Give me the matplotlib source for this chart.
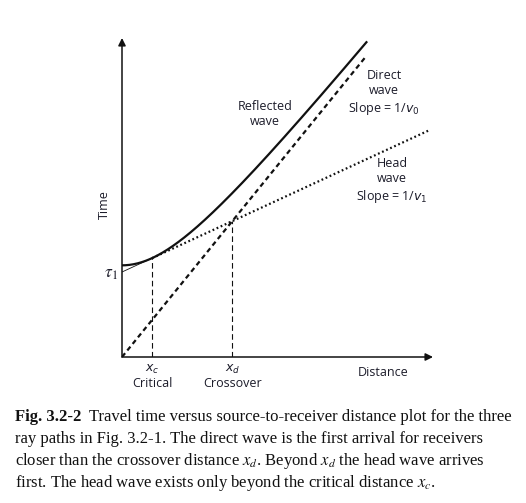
import numpy as np
import matplotlib
matplotlib.use("Agg")
import matplotlib.pyplot as plt

plt.rcParams['mathtext.fontset'] = 'stix'

# Model parameters (arbitrary units)
v0 = 1.0          # direct-wave velocity
v1 = 2.67         # head-wave (refractor) velocity
h = 1.0           # layer thickness
x_max = 8.36      # x-axis extent
t_max = 6.96      # time-axis extent
x_refl_end = 6.59
x_direct_end = 6.53
x_head_end = 8.28

# derived quantities
t0 = 2 * h / v0
ic = np.arcsin(v0 / v1)
tau1 = t0 * np.cos(ic)
xc = 2 * h * np.tan(ic)
xd = tau1 / (1 / v0 - 1 / v1)

W, H = 526, 503
fig = plt.figure(figsize=(W / 100, H / 100), dpi=100)
ox, oy = 122, 357
ax = fig.add_axes([ox / W, (H - oy) / H, (433 - ox) / W, (oy - 38) / H])
ax.set_xlim(0, x_max)
ax.set_ylim(0, t_max)
ax.axis('off')

ink = '#111111'
txt = '#1c1c2a'
sans = 'Open Sans'
fs = 9

# axes arrows
ax.annotate('', xy=(1, 0), xytext=(0, 0), xycoords='axes fraction',
            arrowprops=dict(arrowstyle='-|>', lw=1.1, color=ink, mutation_scale=11,
                            shrinkA=0, shrinkB=0))
ax.annotate('', xy=(0, 1), xytext=(0, 0), xycoords='axes fraction',
            arrowprops=dict(arrowstyle='-|>', lw=1.1, color=ink, mutation_scale=11,
                            shrinkA=0, shrinkB=0))

# reflected wave
xr = np.linspace(0, x_refl_end, 300)
tr = np.sqrt(t0**2 + (xr / v0) ** 2)
ax.plot(xr, tr, color=ink, lw=1.6, solid_capstyle='butt')

# direct wave
xdw = np.array([0, x_direct_end])
ax.plot(xdw, xdw / v0, color=ink, lw=1.6, linestyle=(0, (2.2, 1.6)))

# head wave: thin solid before xc, dotted after
xh0 = np.array([0, xc])
ax.plot(xh0, tau1 + xh0 / v1, color=ink, lw=0.6)
xh = np.array([xc, x_head_end])
ax.plot(xh, tau1 + xh / v1, color=ink, lw=1.6, linestyle=(0, (0.8, 1.2)))

# vertical guides
ax.plot([xc, xc], [0, tau1 + xc / v1], color=ink, lw=0.8, linestyle=(0, (5, 3)))
ax.plot([xd, xd], [0, xd / v0], color=ink, lw=0.8, linestyle=(0, (5, 3)))

# labels
kw = dict(fontfamily=sans, fontsize=fs, color=txt, ha='center', va='center',
          clip_on=False, math_fontfamily='dejavusans')
ax.text(3.84, 5.31, 'Reflected\nwave', linespacing=1.2, **kw)
ax.text(7.04, 5.76, 'Direct\nwave\nSlope = 1/$v_0$', linespacing=1.2, **kw)
ax.text(7.26, 3.84, 'Head\nwave\nSlope = 1/$v_1$', linespacing=1.2, **kw)
ax.text(7.02, -0.33, 'Distance', **kw)
ax.text(xc, -0.28, '$x_c$', **kw)
ax.text(xc, -0.57, 'Critical', **kw)
ax.text(xd, -0.28, '$x_d$', **kw)
ax.text(xd, -0.57, 'Crossover', **kw)
ax.text(-0.46, 3.32, 'Time', rotation=90, **kw)
ax.text(-0.29, tau1 - 0.02, r'$\tau_1$', fontsize=12.5, color=txt, ha='center', va='center')

# caption
cap_lines = [
    [('Fig. 3.2-2', 'bold'), ('  Travel time versus source-to-receiver distance plot for the three', 'normal')],
    [('ray paths in Fig. 3.2-1. The direct wave is the first arrival for receivers', 'normal')],
    [('closer than the crossover distance $x_d$. Beyond $x_d$ the head wave arrives', 'normal')],
    [('first. The head wave exists only beyond the critical distance $x_c$.', 'normal')],
]
cap_y = [417, 439, 461, 483]
renderer = fig.canvas.get_renderer()
for parts, yy in zip(cap_lines, cap_y):
    x = 15
    for s, wgt in parts:
        t = fig.text(x / W, 1 - yy / H, s, fontfamily='Liberation Serif', fontsize=12,
                     fontweight=wgt, color='#111111', ha='left', va='center')
        bb = t.get_window_extent(renderer)
        x += bb.width

fig.savefig('out.png', dpi=100)
